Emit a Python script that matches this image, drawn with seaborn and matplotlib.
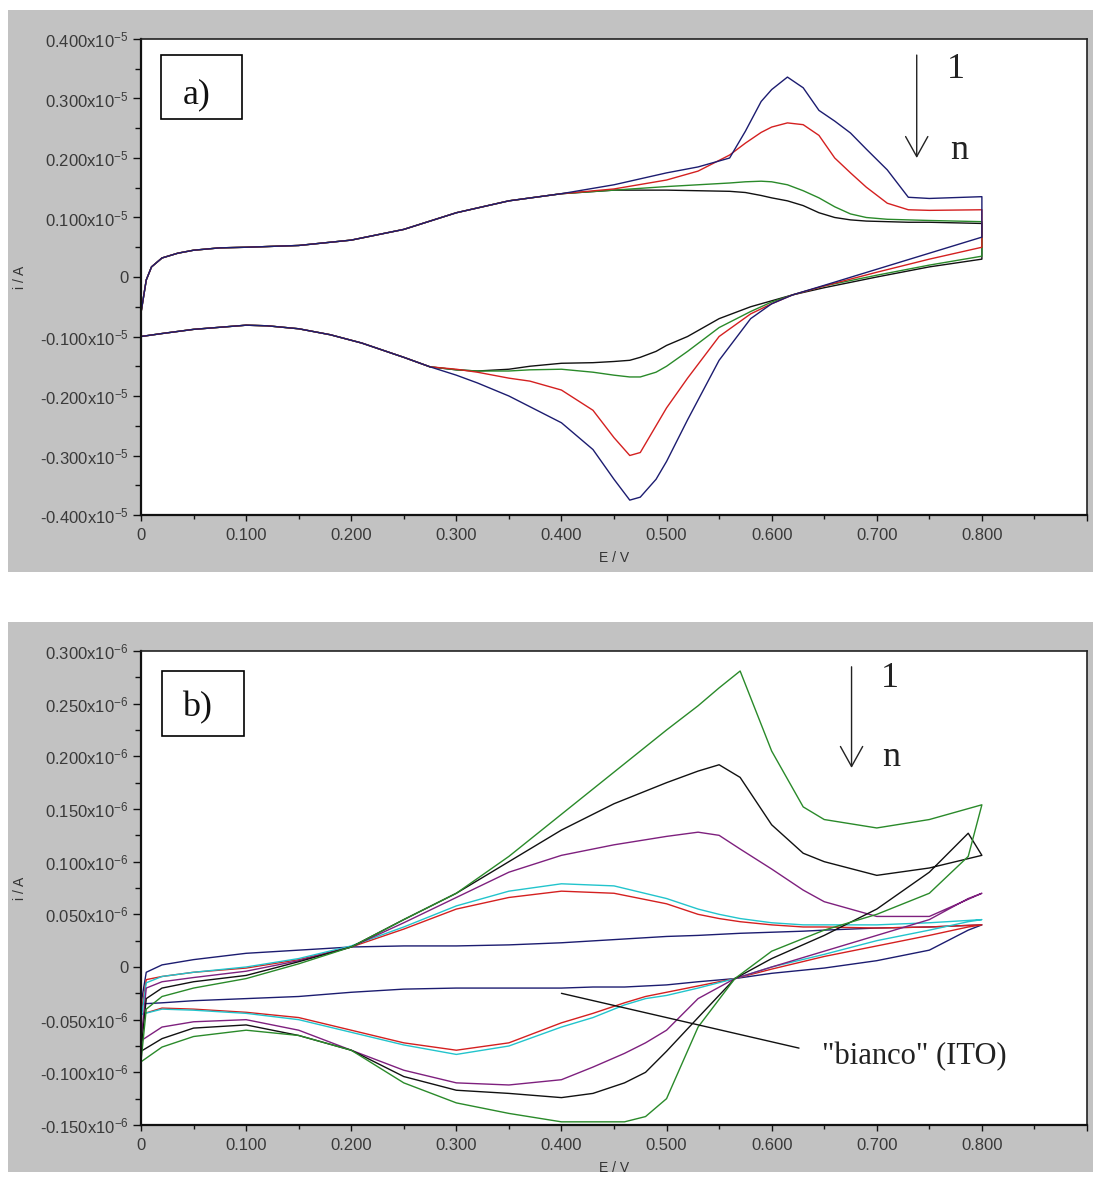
import matplotlib
matplotlib.use("Agg")
import matplotlib.pyplot as plt
import seaborn as sns
from matplotlib.patches import Rectangle
from matplotlib.ticker import MultipleLocator, FuncFormatter

# --- panel a) : potenziali (V) e correnti (unita' 1e-5 A) ---
A_E_FWD = [0, 0.005, 0.01, 0.02, 0.035, 0.05, 0.075, 0.1, 0.15, 0.2, 0.25, 0.3, 0.35, 0.4,
           0.45, 0.5, 0.53, 0.56, 0.575, 0.59, 0.6, 0.615, 0.63, 0.645, 0.66, 0.675, 0.69,
           0.71, 0.73, 0.75, 0.8]
A_FWD_COMMON = [-0.06, -0.005, 0.017, 0.032, 0.04, 0.045, 0.049, 0.05, 0.053, 0.062, 0.08,
                0.108, 0.128, 0.14]
a1_fwd = [0.155, 0.175, 0.185, 0.2, 0.245, 0.295, 0.315, 0.336, 0.318, 0.28, 0.262, 0.242,
          0.215, 0.18, 0.134, 0.132, 0.135]
a2_fwd = [0.148, 0.163, 0.178, 0.205, 0.225, 0.243, 0.252, 0.259, 0.256, 0.238, 0.2, 0.175,
          0.151, 0.124, 0.113, 0.112, 0.113]
a3_fwd = [0.146, 0.152, 0.155, 0.158, 0.16, 0.161, 0.16, 0.155, 0.145, 0.133, 0.118, 0.106,
          0.1, 0.097, 0.096, 0.095, 0.093]
a4_fwd = [0.146, 0.146, 0.145, 0.144, 0.142, 0.137, 0.133, 0.128, 0.12, 0.108, 0.1, 0.096,
          0.094, 0.093, 0.092, 0.092, 0.09]

A_E_REV = [0.8, 0.75, 0.7, 0.65, 0.62, 0.6, 0.58, 0.55, 0.52, 0.5, 0.49, 0.475, 0.465, 0.45,
           0.43, 0.4, 0.37, 0.35, 0.32, 0.3, 0.275, 0.25, 0.21, 0.18, 0.15, 0.12, 0.1, 0.05,
           0.02, 0]
A_REV_COMMON = [-0.135, -0.111, -0.097, -0.087, -0.082, -0.081, -0.088, -0.095, -0.10]
a1_rev = [0.067, 0.04, 0.013, -0.014, -0.03, -0.045, -0.07, -0.14, -0.24, -0.31, -0.34, -0.37,
          -0.375, -0.34, -0.29, -0.245, -0.218, -0.2, -0.178, -0.165, -0.151]
a2_rev = [0.05, 0.03, 0.008, -0.015, -0.03, -0.045, -0.062, -0.1, -0.17, -0.22, -0.25, -0.295,
          -0.3, -0.27, -0.224, -0.19, -0.175, -0.17, -0.16, -0.155, -0.151]
a3_rev = [0.035, 0.02, 0.003, -0.015, -0.03, -0.042, -0.058, -0.085, -0.125, -0.15, -0.16,
          -0.168, -0.168, -0.165, -0.16, -0.155, -0.156, -0.158, -0.158, -0.156, -0.151]
a4_rev = [0.03, 0.017, 0.0, -0.018, -0.03, -0.04, -0.05, -0.07, -0.1, -0.115, -0.125, -0.135,
          -0.14, -0.142, -0.144, -0.145, -0.15, -0.155, -0.158, -0.156, -0.151]
A_COLORS = ["#1c1c70", "#d42020", "#2a8a2a", "#111111"]

# --- panel b) : correnti in unita' 1e-6 A ---
B_E_FWD = [0, 0.005, 0.02, 0.05, 0.1, 0.15, 0.2, 0.25, 0.3, 0.35, 0.4, 0.45, 0.5, 0.53, 0.55,
           0.57, 0.6, 0.63, 0.65, 0.7, 0.75, 0.8]
b1_fwd = [-0.09, -0.04, -0.028, -0.02, -0.011, 0.003, 0.019, 0.045, 0.07, 0.105, 0.145, 0.185,
          0.225, 0.248, 0.265, 0.281, 0.205, 0.152, 0.14, 0.132, 0.14, 0.154]
b2_fwd = [-0.08, -0.03, -0.02, -0.014, -0.008, 0.005, 0.019, 0.045, 0.07, 0.1, 0.13, 0.155,
          0.175, 0.186, 0.192, 0.18, 0.135, 0.108, 0.1, 0.087, 0.094, 0.106]
b3_fwd = [-0.07, -0.02, -0.014, -0.01, -0.004, 0.006, 0.019, 0.042, 0.066, 0.09, 0.106, 0.116,
          0.124, 0.128, 0.125, 0.112, 0.093, 0.073, 0.062, 0.048, 0.048, 0.07]
b4_fwd = [-0.05, -0.015, -0.009, -0.005, 0.0, 0.008, 0.02, 0.038, 0.058, 0.072, 0.079, 0.077,
          0.065, 0.055, 0.05, 0.046, 0.042, 0.04, 0.04, 0.04, 0.042, 0.045]
b5_fwd = [-0.045, -0.012, -0.009, -0.005, -0.001, 0.007, 0.019, 0.036, 0.055, 0.066, 0.072,
          0.07, 0.06, 0.05, 0.046, 0.043, 0.04, 0.038, 0.038, 0.037, 0.038, 0.04]
b0_fwd = [-0.035, -0.005, 0.002, 0.007, 0.013, 0.016, 0.019, 0.02, 0.02, 0.021, 0.023, 0.026,
          0.029, 0.03, 0.031, 0.032, 0.033, 0.034, 0.035, 0.037, 0.038, 0.04]

B_E_REV = [0.8, 0.787, 0.75, 0.7, 0.65, 0.6, 0.565, 0.53, 0.5, 0.48, 0.46, 0.43, 0.4, 0.35, 0.3,
           0.25, 0.2, 0.15, 0.1, 0.05, 0.02, 0]
b1_rev = [0.154, 0.105, 0.07, 0.05, 0.035, 0.015, -0.011, -0.057, -0.125, -0.142, -0.147,
          -0.147, -0.147, -0.139, -0.129, -0.11, -0.079, -0.065, -0.06, -0.066, -0.076, -0.09]
b2_rev = [0.106, 0.127, 0.09, 0.055, 0.03, 0.008, -0.011, -0.048, -0.08, -0.1, -0.11, -0.12,
          -0.124, -0.12, -0.117, -0.104, -0.079, -0.065, -0.055, -0.058, -0.068, -0.08]
b3_rev = [0.07, 0.065, 0.045, 0.03, 0.015, 0.0, -0.011, -0.03, -0.06, -0.072, -0.082, -0.095,
          -0.107, -0.112, -0.11, -0.098, -0.079, -0.06, -0.05, -0.052, -0.057, -0.07]
b4_rev = [0.045, 0.043, 0.035, 0.025, 0.012, 0.0, -0.011, -0.02, -0.027, -0.03, -0.036, -0.048,
          -0.057, -0.075, -0.083, -0.074, -0.062, -0.05, -0.044, -0.041, -0.04, -0.045]
b5_rev = [0.04, 0.038, 0.03, 0.02, 0.01, -0.002, -0.011, -0.018, -0.024, -0.028, -0.034,
          -0.044, -0.053, -0.072, -0.079, -0.072, -0.06, -0.048, -0.043, -0.04, -0.039, -0.045]
b0_rev = [0.04, 0.035, 0.016, 0.006, -0.001, -0.006, -0.011, -0.014, -0.017, -0.018, -0.019,
          -0.019, -0.02, -0.02, -0.02, -0.021, -0.024, -0.028, -0.03, -0.032, -0.034, -0.035]
B_COLORS = ["#2a8a2a", "#111111", "#7e207e", "#22c4cc", "#d42020", "#1c1c70"]

X_TICKS = [0, 0.1, 0.2, 0.3, 0.4, 0.5, 0.6, 0.7, 0.8, 0.9]
X_LABELS = ["0", "0.100", "0.200", "0.300", "0.400", "0.500", "0.600", "0.700", "0.800", ""]

sns.set_style("white")
plt.rcParams["font.family"] = ["Liberation Sans", "DejaVu Sans"]
plt.rcParams["mathtext.fontset"] = "custom"
plt.rcParams["mathtext.rm"] = "Liberation Sans"
plt.rcParams["mathtext.it"] = "Liberation Sans:italic"
plt.rcParams["mathtext.bf"] = "Liberation Sans:bold"
plt.rcParams["axes.unicode_minus"] = False

W, H = 1093, 1184
fig = plt.figure(figsize=(W / 100, H / 100), dpi=100)
fig.patch.set_facecolor("white")

# cornici grigie
for top, bot in [(10, 572), (622, 1172)]:
    fig.add_artist(Rectangle((8 / W, 1 - bot / H), (W - 8) / W, (bot - top) / H,
                             transform=fig.transFigure, fc="#c2c2c2", ec="none", zorder=-5))

ax_a = fig.add_axes([141 / W, 1 - 515 / H, 946 / W, 476 / H])
ax_b = fig.add_axes([141 / W, 1 - 1125 / H, 946 / W, 474 / H])


def draw_cv(ax, e_fwd, i_fwd, e_rev, i_rev, color):
    e = list(e_fwd) + list(e_rev) + [e_fwd[0]]
    i = list(i_fwd) + list(i_rev) + [i_fwd[0]]
    sns.lineplot(x=e, y=i, sort=False, estimator=None, color=color, lw=1.0, ax=ax)


def style_axes(ax, ymin, ymax, ymaj, ymin_step, exp):
    ax.set_facecolor("white")
    ax.set_xlim(0, 0.9)
    ax.set_ylim(ymin, ymax)
    ax.set_xticks(X_TICKS)
    ax.set_xticklabels(X_LABELS)
    ax.xaxis.set_minor_locator(MultipleLocator(0.05))
    ax.yaxis.set_major_locator(MultipleLocator(ymaj))
    ax.yaxis.set_minor_locator(MultipleLocator(ymin_step))

    def fmt(v, pos):
        if abs(v) < 1e-9:
            return "0"
        return f"{v:.3f}x10$^{{{exp}}}$"

    ax.yaxis.set_major_formatter(FuncFormatter(fmt))
    ax.tick_params(axis="both", which="both", direction="out", colors="#111111",
                   labelcolor="#3a3a3a", labelsize=12, width=1)
    ax.tick_params(axis="y", which="major", length=6, pad=3, left=True)
    ax.tick_params(axis="y", which="minor", length=4, left=True)
    ax.tick_params(axis="x", which="major", length=4, pad=5, bottom=True)
    ax.tick_params(axis="x", which="minor", length=3, bottom=True)
    for side in ["left", "bottom"]:
        ax.spines[side].set_linewidth(1.6)
        ax.spines[side].set_color("#111111")
    for side in ["top", "right"]:
        ax.spines[side].set_linewidth(1.2)
        ax.spines[side].set_color("#222222")
    ax.set_xlabel("E / V", fontsize=10, color="#333333")
    ax.set_ylabel("i / A", fontsize=10, color="#333333")
    ax.xaxis.set_label_coords(0.5, -0.076)
    ax.yaxis.set_label_coords(-0.1205, 0.5)


# pannello a)
a_fwd = [a1_fwd, a2_fwd, a3_fwd, a4_fwd]
a_rev = [a1_rev, a2_rev, a3_rev, a4_rev]
for k in [3, 2, 1, 0]:
    draw_cv(ax_a, A_E_FWD, A_FWD_COMMON + a_fwd[k], A_E_REV, a_rev[k] + A_REV_COMMON, A_COLORS[k])
style_axes(ax_a, -0.4, 0.4, 0.1, 0.05, -5)

# pannello b)
b_fwd = [b1_fwd, b2_fwd, b3_fwd, b4_fwd, b5_fwd, b0_fwd]
b_rev = [b1_rev, b2_rev, b3_rev, b4_rev, b5_rev, b0_rev]
for k in [5, 4, 3, 2, 1, 0]:
    draw_cv(ax_b, B_E_FWD, b_fwd[k], B_E_REV, b_rev[k], B_COLORS[k])
style_axes(ax_b, -0.15, 0.3, 0.05, 0.025, -6)

# etichette a) / b) e frecce 1 -> n
serif = ["Liberation Serif", "DejaVu Serif"]
for ax, lab, box, tpos in [(ax_a, "a)", (0.0211, 0.832, 0.0856, 0.134), (0.059, 0.882)),
                           (ax_b, "b)", (0.022, 0.821, 0.0867, 0.137), (0.059, 0.880))]:
    ax.add_patch(Rectangle(box[:2], box[2], box[3], transform=ax.transAxes,
                           fc="white", ec="black", lw=1.2, zorder=5))
    ax.text(tpos[0], tpos[1], lab, transform=ax.transAxes, family=serif, fontsize=26,
            ha="center", va="center", color="#111111", zorder=6)

arrow = dict(arrowstyle="->,head_length=0.72,head_width=0.4", lw=1.0, color="#222222",
             mutation_scale=20, shrinkA=0, shrinkB=0)
ax_a.annotate("", xy=(0.738, 0.2), xytext=(0.738, 0.373), arrowprops=arrow)
ax_a.text(0.775, 0.348, "1", family=serif, fontsize=26, ha="center", va="center", color="#222222")
ax_a.text(0.778, 0.213, "n", family=serif, fontsize=26, ha="center", va="center", color="#222222")

ax_b.annotate("", xy=(0.676, 0.189), xytext=(0.676, 0.285), arrowprops=arrow)
ax_b.text(0.712, 0.274, "1", family=serif, fontsize=26, ha="center", va="center", color="#222222")
ax_b.text(0.714, 0.199, "n", family=serif, fontsize=26, ha="center", va="center", color="#222222")

# nota sul bianco
ax_b.annotate("", xy=(0.4, -0.025), xytext=(0.626, -0.077),
              arrowprops=dict(arrowstyle="-", lw=1.0, color="#111111", shrinkA=0, shrinkB=0))
ax_b.text(0.648, -0.085, "\"bianco\" (ITO)", family=serif, fontsize=22, ha="left",
          va="center", color="#222222")

fig.savefig("out.png", dpi=100)
print("salvato out.png")
